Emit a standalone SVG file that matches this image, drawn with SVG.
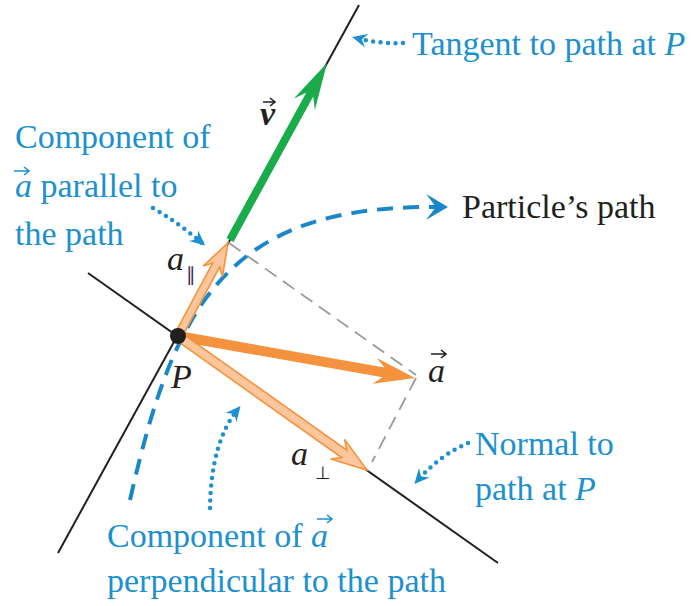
<svg xmlns="http://www.w3.org/2000/svg" width="696" height="606" viewBox="0 0 696 606">
<defs>
<style>
.lbl{font-size:34px}
.blue{fill:#1d90d0}
.dark{fill:#231f20}
.it{font-style:italic}
.ln{stroke:#231f20;stroke-width:2;fill:none}
.gd{stroke:#9a9a9a;stroke-width:1.8;stroke-dasharray:14 8;fill:none}
.dot{stroke:#1d90d0;stroke-width:4.5;stroke-linecap:round;stroke-dasharray:0 7.5;fill:none}
.vecarrow{stroke-width:1.6;fill:none}
</style>
<marker id="bh" markerUnits="userSpaceOnUse" viewBox="-14 -9 20 18" markerWidth="20" markerHeight="18" refX="0" refY="0" orient="auto">
<path d="M-11,-7 L4,0 L-11,7 L-6,0 Z" fill="#1d90d0"/>
</marker>
<marker id="ph" markerUnits="userSpaceOnUse" viewBox="-16 -14 32 28" markerWidth="32" markerHeight="28" refX="0" refY="0" orient="auto">
<path d="M-12,-13 L10,0 L-12,13 L-2,0 Z" fill="#1a87c9"/>
</marker>
</defs>

<g id="connectors">
<line class="ln" x1="58" y1="553" x2="359" y2="5"/>
<line class="ln" x1="88" y1="273" x2="498" y2="563"/>
<line class="gd" x1="229" y1="243" x2="416" y2="375"/>
<line class="gd" x1="416" y1="378" x2="372" y2="462"/>
<path d="M130,500 C175,300 230,205 438,207" stroke="#1a87c9" stroke-width="4" stroke-dasharray="16 10" fill="none" marker-end="url(#ph)"/>
<path class="dot" d="M403,43 Q380,44 356,38" marker-end="url(#bh)"/>
<path class="dot" d="M153,208 Q180,224 202,243" marker-end="url(#bh)"/>
<path class="dot" d="M210,508 Q211,442 238,409" marker-end="url(#bh)"/>
<path class="dot" d="M468,443 Q440,455 417,481" marker-end="url(#bh)"/>
</g>

<g font-family="Liberation Serif, Times New Roman, serif">
<g id="vector-v">
<polygon points="233.5,241.9 313.2,96.5 314.9,110 327,63 293.9,98.5 306.2,92.7 226.5,238.1" fill="#1aab4b"/>
<path class="vecarrow" d="M263,102 H275 M270,98 L275,102 L270,106" stroke="#231f20"/>
<text class="lbl dark it" x="260" y="125" font-weight="bold">v</text>
</g>

<g id="vector-a">
<polygon points="177.1,340.9 382.6,377.3 372.4,383.7 415,378 376.9,358.1 384.4,367.5 178.9,331.1" fill="#f5923e"/>
<path class="vecarrow" d="M431,354 H446 M441,350 L446,354 L441,358" stroke="#231f20"/>
<text class="lbl dark it" x="428" y="382">a</text>
</g>

<g id="vector-a-par">
<polygon points="181.5,337.9 219.7,266.9 222.5,276.4 228,243 203.2,266 212.6,263.1 174.5,334.1" fill="#fcc69c" stroke="#f5923e" stroke-width="1.6" stroke-linejoin="miter"/>
<text class="lbl dark it" x="167" y="270">a</text>
<text x="186" y="281" font-family="DejaVu Sans, sans-serif" font-size="19" fill="#3b2a5a">∥</text>
</g>

<g id="vector-a-perp">
<polygon points="175.4,339.7 341.6,457.5 330.7,459 367,470 344.6,439.4 346.8,450.1 180.6,332.3" fill="#fcc69c" stroke="#f5923e" stroke-width="1.6"/>
<text class="lbl dark it" x="291" y="465">a</text>
<text x="315" y="479" font-family="DejaVu Sans, sans-serif" font-size="18" fill="#231f20">⊥</text>
</g>

<g id="point-P">
<circle cx="178" cy="336" r="8" fill="#231f20"/>
<text class="lbl dark it" x="171" y="388">P</text>
</g>

<g id="label-tangent">
<text class="lbl blue" x="412" y="55">Tangent to path at <tspan class="it">P</tspan></text>
</g>

<g id="label-path">
<text class="lbl dark" x="462" y="218">Particle’s path</text>
</g>

<g id="label-parallel">
<text class="lbl blue" x="15" y="148">Component of</text>
<text class="lbl blue" x="15" y="197"><tspan class="it">a</tspan> parallel to</text>
<text class="lbl blue" x="15" y="245">the path</text>
<path class="vecarrow" d="M14,171 H29 M24,167 L29,171 L24,175" stroke="#1d90d0"/>
</g>

<g id="label-normal">
<text class="lbl blue" x="475" y="455">Normal to</text>
<text class="lbl blue" x="475" y="500">path at <tspan class="it">P</tspan></text>
</g>

<g id="label-perp">
<text class="lbl blue" x="107" y="547">Component of <tspan class="it">a</tspan></text>
<text class="lbl blue" x="107" y="592">perpendicular to the path</text>
<path class="vecarrow" d="M317,519 H332 M327,515 L332,519 L327,523" stroke="#1d90d0"/>
</g>
</g>
</svg>
